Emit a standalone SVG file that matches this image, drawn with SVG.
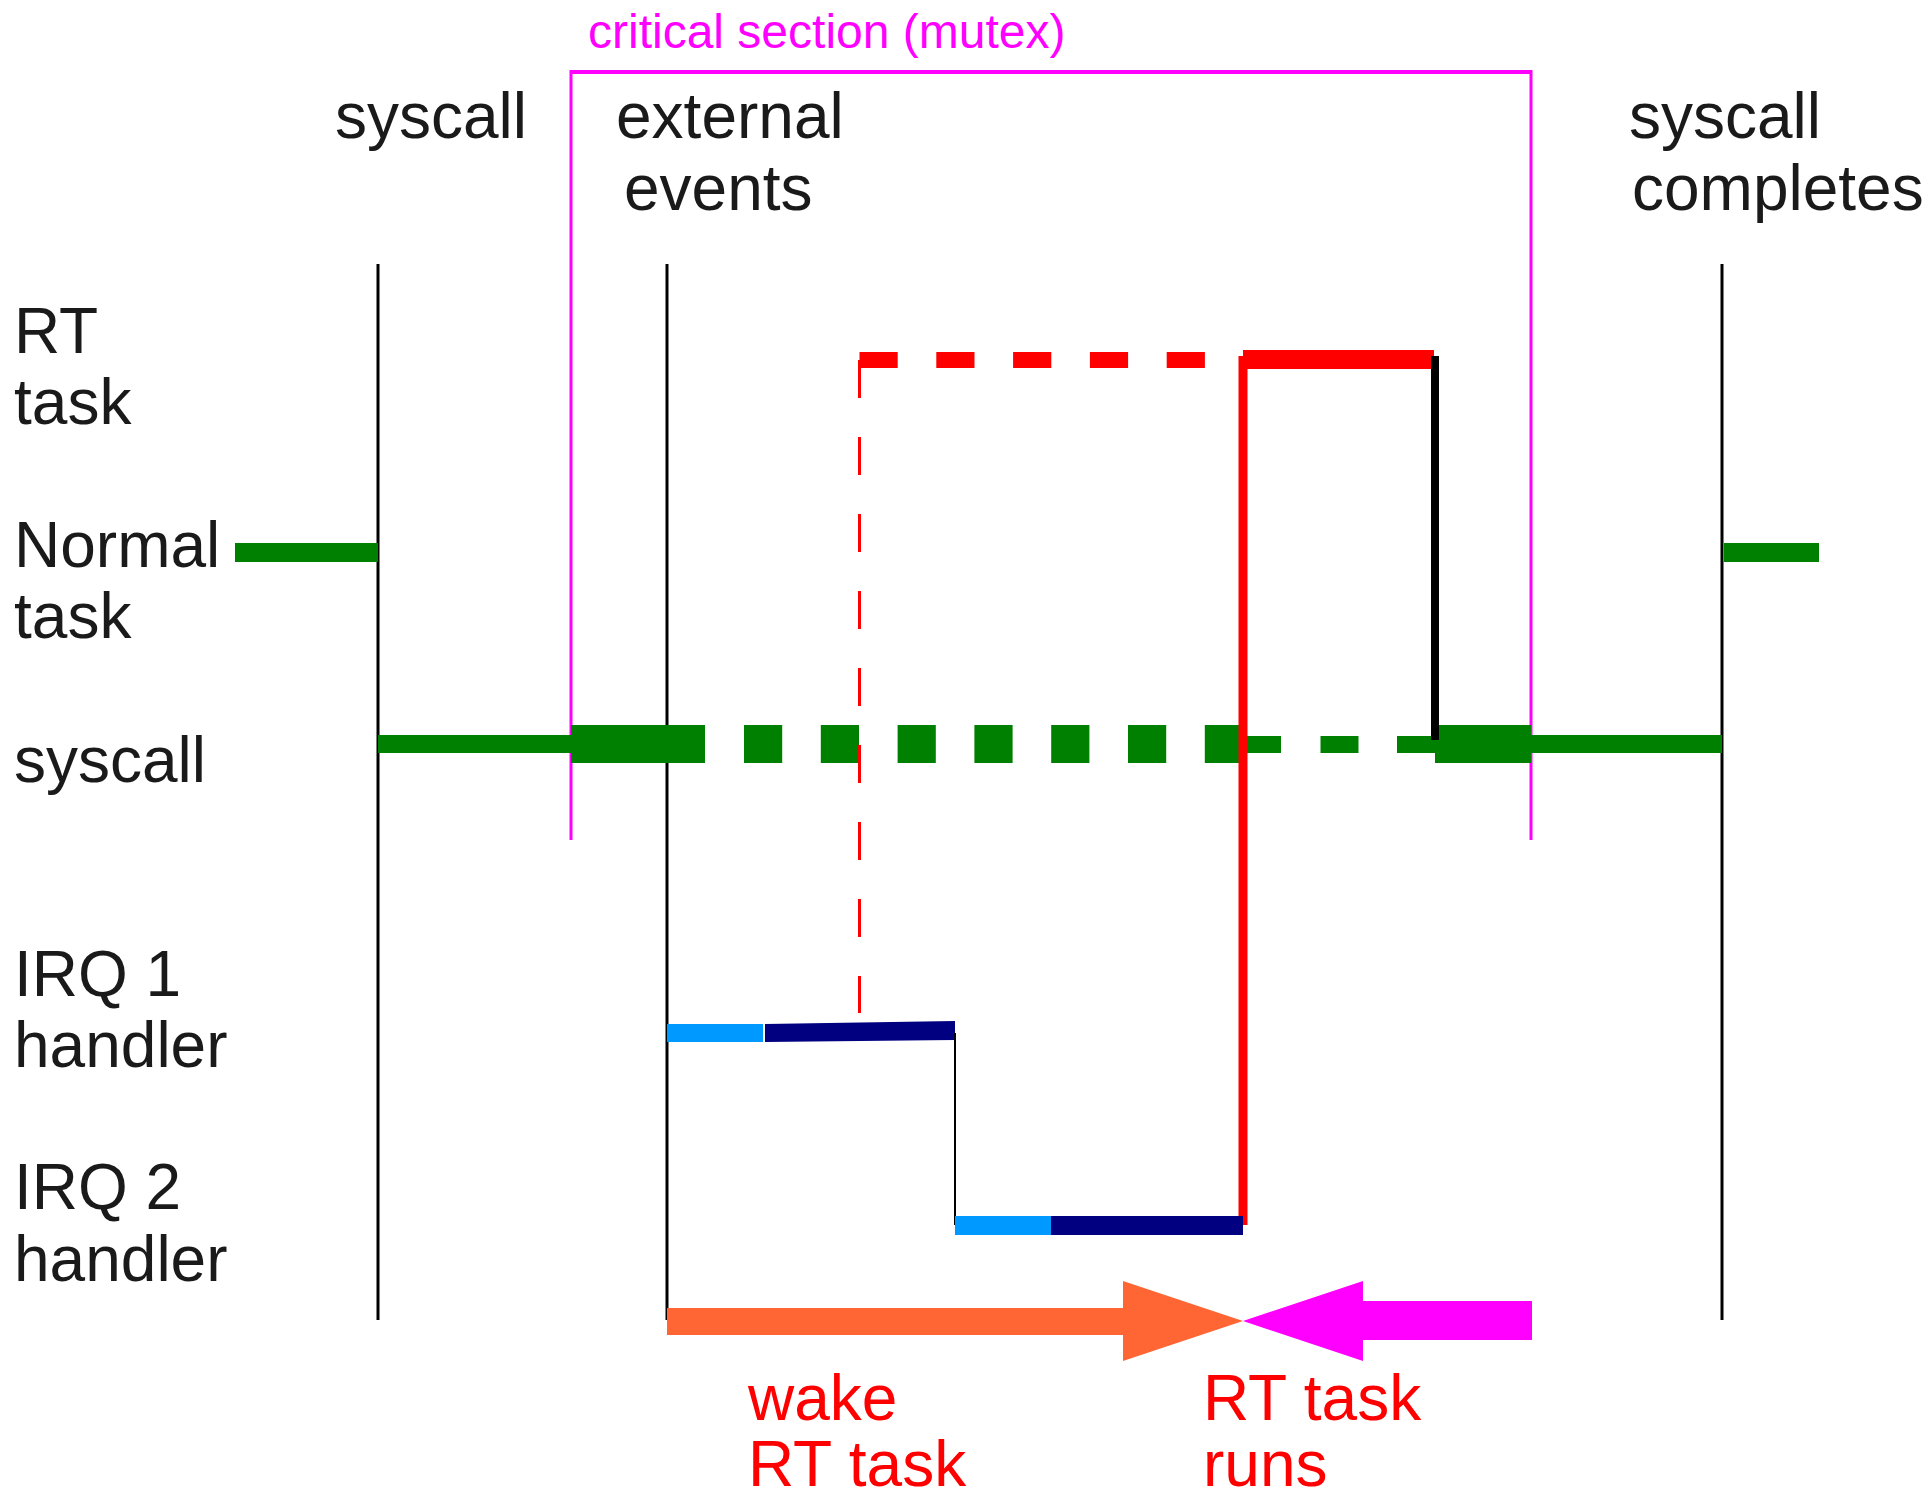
<svg xmlns="http://www.w3.org/2000/svg" width="1932" height="1501" viewBox="0 0 1932 1501">
  <style>
    .lbl { font-family: "Liberation Sans", Arial, sans-serif; font-size: 64px; fill: #1a1a1a; }
    .red { font-family: "Liberation Sans", Arial, sans-serif; font-size: 64px; fill: #ff0000; }
    .mag { font-family: "Liberation Sans", Arial, sans-serif; font-size: 48px; fill: #ff00ff; }
    .tick { stroke: #000; stroke-width: 3; fill: none; }
    .green { fill: #008000; }
    .light { fill: #0099ff; }
    .navy { fill: #000080; }
  </style>
  <rect width="1932" height="1501" fill="#fff"/>

  <!-- critical section bracket -->
  <g id="critical-section">
    <text class="mag" x="588" y="48">critical section (mutex)</text>
    <line x1="571" y1="72" x2="1531" y2="72" stroke="#ff00ff" stroke-width="4"/>
    <line x1="571" y1="70" x2="571" y2="840" stroke="#ff00ff" stroke-width="3"/>
    <line x1="1531" y1="70" x2="1531" y2="840" stroke="#ff00ff" stroke-width="3"/>
  </g>

  <!-- column headings -->
  <g id="headings">
    <text class="lbl" x="335" y="138">syscall</text>
    <text class="lbl" x="616" y="138">external</text>
    <text class="lbl" x="624" y="210">events</text>
    <text class="lbl" x="1629" y="138">syscall</text>
    <text class="lbl" x="1632" y="210">completes</text>
  </g>

  <!-- row labels -->
  <g id="rows">
    <text class="lbl" x="14" y="353">RT</text>
    <text class="lbl" x="14" y="424">task</text>
    <text class="lbl" x="14" y="567">Normal</text>
    <text class="lbl" x="14" y="638">task</text>
    <text class="lbl" x="14" y="782">syscall</text>
    <text class="lbl" x="14" y="996">IRQ 1</text>
    <text class="lbl" x="14" y="1067">handler</text>
    <text class="lbl" x="14" y="1209">IRQ 2</text>
    <text class="lbl" x="14" y="1281">handler</text>
  </g>

  <!-- time markers -->
  <g id="markers">
    <line class="tick" x1="378" y1="264" x2="378" y2="1320"/>
    <line class="tick" x1="667" y1="264" x2="667" y2="1320"/>
    <line class="tick" x1="1722" y1="264" x2="1722" y2="1320"/>
  </g>

  <g id="connectors">
    <!-- normal task running -->
    <rect class="green" x="235" y="543" width="143" height="19"/>
    <rect class="green" x="1724" y="543" width="95" height="19"/>

    <!-- syscall lane -->
    <rect class="green" x="378" y="735" width="193" height="18"/>
    <rect class="green" x="571" y="725" width="134" height="38"/>
    <g class="green">
      <rect x="744" y="725" width="38.2" height="38"/>
      <rect x="820.8" y="725" width="38.2" height="38"/>
      <rect x="897.6" y="725" width="38.2" height="38"/>
      <rect x="974.4" y="725" width="38.2" height="38"/>
      <rect x="1051.2" y="725" width="38.2" height="38"/>
      <rect x="1128" y="725" width="38.2" height="38"/>
      <rect x="1204.8" y="725" width="38.2" height="38"/>
      <rect x="1243" y="736" width="38" height="17"/>
      <rect x="1320.5" y="736" width="38" height="17"/>
      <rect x="1397" y="736" width="38" height="17"/>
    </g>
    <rect class="green" x="1435" y="725" width="96" height="38"/>
    <rect class="green" x="1531" y="735" width="191" height="18"/>

    <!-- RT task pending (dashed) and running -->
    <line x1="859.5" y1="360" x2="1243" y2="360" stroke="#ff0000" stroke-width="16" stroke-dasharray="38.2 38.6"/>
    <line x1="859.5" y1="360" x2="859.5" y2="1013" stroke="#ff0000" stroke-width="3" stroke-dasharray="38 39"/>
    <rect x="1243" y="350" width="191" height="19" fill="#ff0000"/>
    <line x1="1243" y1="356" x2="1243" y2="1225" stroke="#ff0000" stroke-width="9"/>
    <line x1="1435" y1="356" x2="1435" y2="740" stroke="#000" stroke-width="8"/>

    <!-- IRQ handlers -->
    <rect class="light" x="667" y="1024" width="96" height="18"/>
    <polygon class="navy" points="765,1024 955,1021 955,1040 765,1042"/>
    <line x1="955" y1="1033" x2="955" y2="1225" stroke="#000" stroke-width="2"/>
    <rect class="light" x="955" y="1216" width="96" height="19"/>
    <rect class="navy" x="1051" y="1216" width="192" height="19"/>

    <!-- wake / run arrows -->
    <polygon fill="#ff6633" points="667,1308 1123,1308 1123,1281 1243,1321 1123,1361 1123,1335 667,1335"/>
    <polygon fill="#ff00ff" points="1243,1321 1363,1281 1363,1301 1532,1301 1532,1340 1363,1340 1363,1361"/>
  </g>

  <g id="arrow-labels">
    <text class="red" x="748" y="1420">wake</text>
    <text class="red" x="748" y="1486">RT task</text>
    <text class="red" x="1203" y="1420">RT task</text>
    <text class="red" x="1203" y="1486">runs</text>
  </g>
</svg>
